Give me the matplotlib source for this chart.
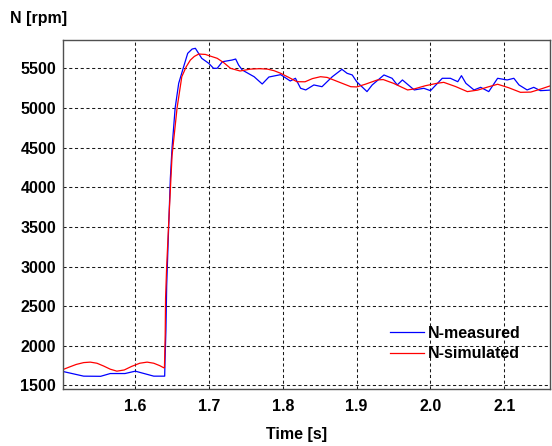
import matplotlib
matplotlib.use("Agg")
import matplotlib.pyplot as plt

# measured speed [rpm]
t_meas = [1.500, 1.530, 1.553, 1.566, 1.586, 1.600, 1.625, 1.6385,
          1.6398, 1.6402, 1.6415, 1.6425, 1.6452, 1.6475, 1.6498, 1.6540,
          1.6588, 1.6655, 1.6710, 1.6770, 1.6814, 1.6900, 1.6995, 1.7060,
          1.7110, 1.7180, 1.7310, 1.7360, 1.7400, 1.7450, 1.7560, 1.7610,
          1.7720, 1.7810, 1.7970, 1.8100, 1.8170, 1.8240, 1.8310, 1.8420,
          1.8530, 1.8670, 1.8800, 1.8870, 1.8940, 1.9000, 1.9140, 1.9210,
          1.9370, 1.9480, 1.9550, 1.9620, 1.9780, 1.9910, 2.0000, 2.0160,
          2.0270, 2.0370, 2.0420, 2.0480, 2.0590, 2.0680, 2.0790, 2.0910,
          2.1040, 2.1130, 2.1200, 2.1310, 2.1400, 2.1490, 2.1660]
n_meas = [1680, 1617, 1615, 1650, 1650, 1680, 1617, 1617,
          1617, 1790, 2200, 2750, 3500, 4115, 4500, 5000,
          5311, 5520, 5689, 5743, 5752, 5626, 5563, 5500,
          5500, 5583, 5604, 5617, 5541, 5478, 5420, 5394,
          5302, 5390, 5420, 5340, 5374, 5248, 5227, 5290,
          5268, 5394, 5487, 5437, 5416, 5331, 5206, 5290,
          5416, 5374, 5290, 5353, 5227, 5248, 5218, 5374,
          5374, 5331, 5407, 5311, 5227, 5260, 5206, 5374,
          5353, 5374, 5290, 5227, 5260, 5218, 5227]

# simulated speed [rpm]
t_sim = [1.500, 1.510, 1.520, 1.530, 1.539, 1.548, 1.557, 1.566, 1.575,
         1.585, 1.595, 1.606, 1.616, 1.625, 1.633, 1.6385,
         1.6395, 1.6405, 1.6410, 1.6425, 1.6450, 1.6498, 1.6566, 1.6630,
         1.6690, 1.6746, 1.6800, 1.6860, 1.6950, 1.7030, 1.7110, 1.7200,
         1.7290, 1.7420, 1.7560, 1.7680, 1.7790, 1.7880, 1.7970, 1.8080,
         1.8190, 1.8300, 1.8400, 1.8510, 1.8600, 1.8750, 1.8920, 1.9000,
         1.9120, 1.9280, 1.9360, 1.9500, 1.9690, 1.9780, 1.9930, 2.0090,
         2.0180, 2.0340, 2.0500, 2.0640, 2.0780, 2.0910, 2.1060, 2.1220,
         2.1360, 2.1500, 2.1660]
n_sim = [1693, 1730, 1765, 1788, 1794, 1780, 1745, 1705, 1680,
         1695, 1740, 1780, 1794, 1780, 1750, 1723,
         1723, 2140, 2600, 3000, 3500, 4400, 5000, 5394,
         5520, 5604, 5650, 5680, 5675, 5650, 5626, 5570,
         5500, 5466, 5490, 5495, 5490, 5470, 5437, 5385,
         5331, 5330, 5370, 5394, 5385, 5330, 5268, 5265,
         5300, 5353, 5358, 5310, 5227, 5240, 5280, 5311,
         5323, 5270, 5206, 5225, 5265, 5299, 5255, 5197,
         5200, 5240, 5290]

x_ticks = [1.6, 1.7, 1.8, 1.9, 2.0, 2.1]
x_labels = ["1.6", "1.7", "1.8", "1.9", "2.0", "2.1"]
y_ticks = [1500, 2000, 2500, 3000, 3500, 4000, 4500, 5000, 5500]

plt.rcParams['font.family'] = ['Liberation Sans', 'DejaVu Sans']
plt.rcParams['font.weight'] = 'bold'

fig = plt.figure(figsize=(5.52, 4.46), dpi=100)
ax = fig.add_axes([63 / 552, 1 - 389 / 446, 487 / 552, 349 / 446])

ax.plot(t_meas, n_meas, color="#0000FF", lw=0.9, label="N-measured")
ax.plot(t_sim, n_sim, color="#FF0000", lw=0.9, label="N-simulated")

ax.set_xlim(1.502, 2.162)
ax.set_ylim(1455, 5857)
ax.set_xticks(x_ticks)
ax.set_xticklabels(x_labels)
ax.set_yticks(y_ticks)
ax.tick_params(length=0, labelsize=11.5)
ax.tick_params(axis='x', pad=7)
ax.tick_params(axis='y', pad=5)

ax.grid(True, color="#1a1a1a", lw=0.75, ls=(0, (3, 2.5)))
for s in ax.spines.values():
    s.set_color("#505050")
    s.set_linewidth(1.0)

fig.text(10 / 552, 1 - 18.5 / 446, "N [rpm]", fontsize=11.5, va='center', ha='left')
fig.text(297 / 552, 1 - 434 / 446, "Time [s]", fontsize=11.5, va='center', ha='center')

ax.legend(loc='center left', bbox_to_anchor=(390 / 552, 1 - 343.7 / 446),
          bbox_transform=fig.transFigure, frameon=False, fontsize=11.5,
          handlelength=2.1, handletextpad=0.3, borderpad=0, borderaxespad=0,
          labelspacing=0.35)

fig.savefig("out.png", dpi=100)
